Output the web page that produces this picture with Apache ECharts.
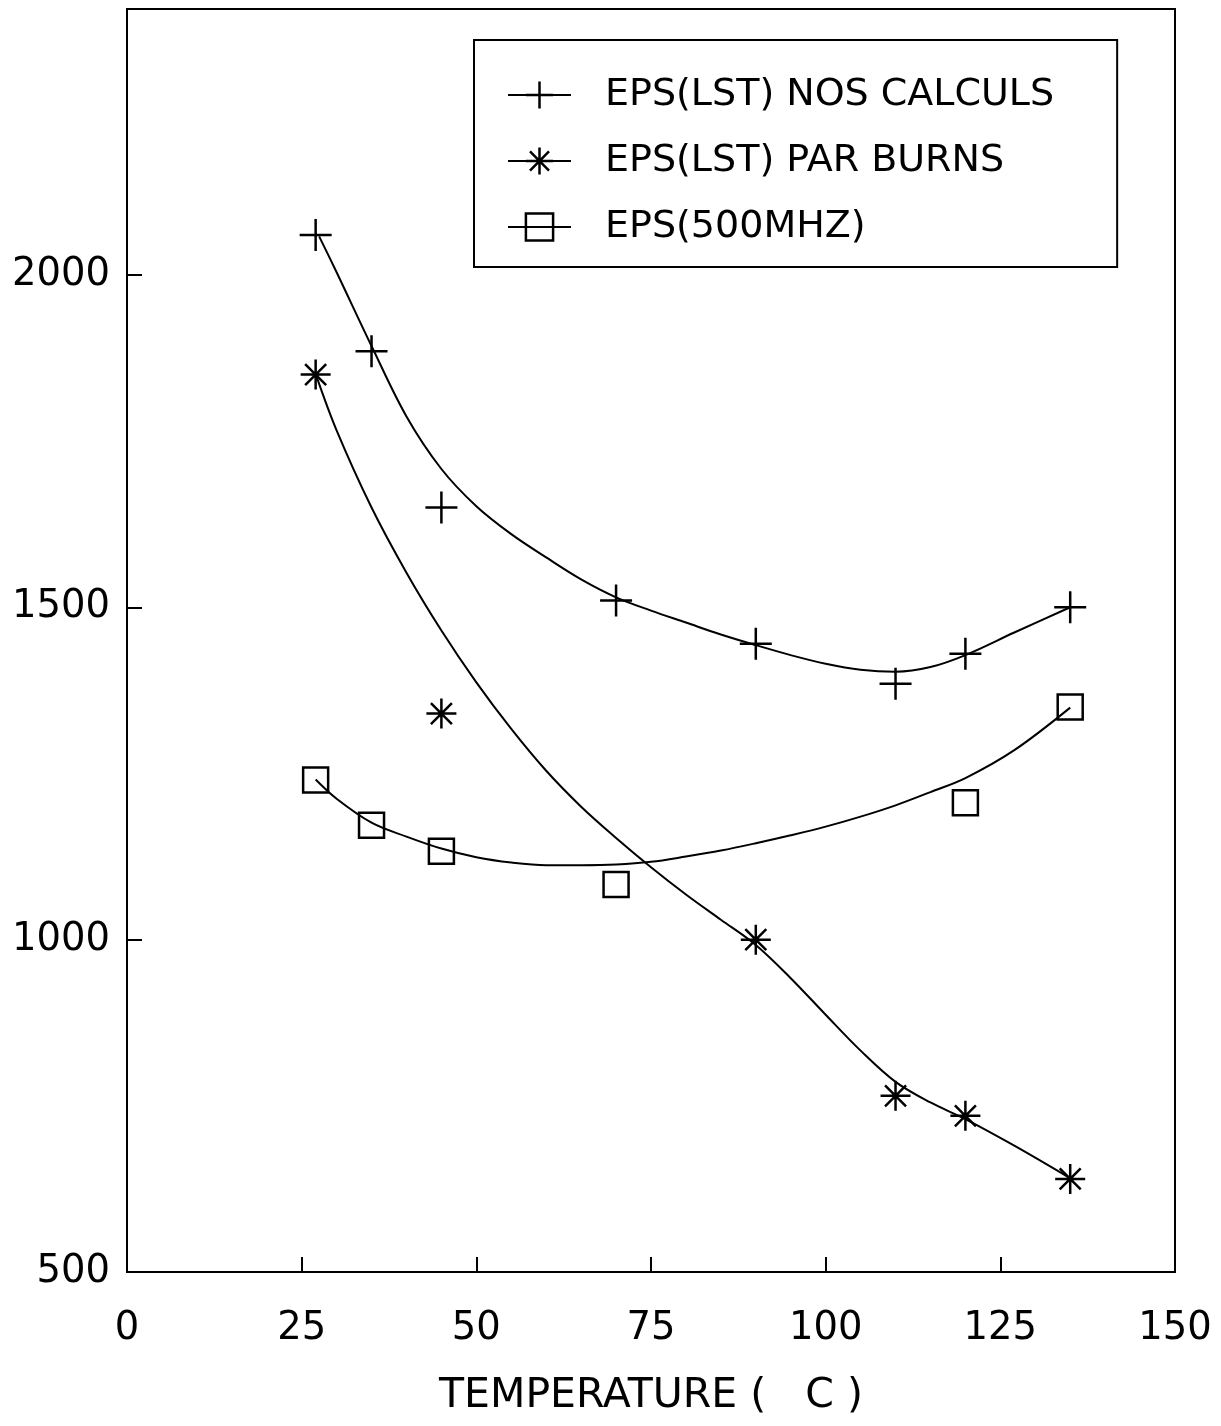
<!DOCTYPE html>
<html><head><meta charset="utf-8">
<script src="https://cdn.jsdelivr.net/npm/echarts@6/dist/echarts.min.js"></script>
<style>html,body{margin:0;padding:0;background:#fff}#c{width:1221px;height:1426px}</style>
</head><body><div id="c"></div>
<script>
// Measured points
const plusX = [27, 35, 45, 70, 90, 110, 120, 135];
const plusY = [2060, 1885, 1650, 1510, 1445, 1385, 1430, 1500];
const starX = [27, 45, 90, 110, 120, 135];
const starY = [1850, 1340, 1000, 765, 735, 640];
const squareX = [27, 35, 45, 70, 120, 135];
const squareY = [1240, 1172, 1133, 1083, 1206, 1350];

// Fitted curves
const plusCurveX = [27.5, 30, 35, 40, 45, 50, 55, 60, 65, 70, 75, 80, 85, 90, 95, 100, 105, 110, 115, 120, 127, 135];
const plusCurveY = [2058, 2004, 1893, 1787, 1708, 1652, 1610, 1575, 1542, 1515, 1495, 1477, 1459, 1443, 1428, 1415, 1406, 1403, 1410, 1428, 1462, 1500];
const starCurveX = [27, 30, 35, 40, 45, 50, 55, 60, 65, 70, 75, 80, 85, 90, 95, 100, 105, 110, 115, 120, 127, 135];
const starCurveY = [1851, 1766, 1650, 1552, 1465, 1387, 1317, 1254, 1200, 1153, 1109, 1068, 1030, 992, 942, 887, 833, 786, 755, 730, 690, 641];
const squareCurveX = [27, 30, 35, 40, 45, 50, 55, 60, 65, 70, 75, 80, 85, 90, 95, 100, 105, 110, 115, 120, 127, 135];
const squareCurveY = [1241, 1212, 1176, 1155, 1137, 1124, 1116, 1112, 1112, 1113, 1117, 1125, 1134, 1145, 1157, 1170, 1185, 1202, 1222, 1243, 1285, 1349];

const seriesNames = ['EPS(LST) NOS CALCULS', 'EPS(LST) PAR BURNS', 'EPS(500MHZ)'];
const xAxisName = 'TEMPERATURE (   C )';

const zip = (xs, ys) => xs.map((x, i) => [x, ys[i]]);
const FONT = 'DejaVu Sans';
const plusPath = 'path://M0,10 L20,10 M10,0 L10,20';
const starPath = 'path://M0,10 L20,10 M10,0 L10,20 M3,3 L17,17 M17,3 L3,17';
const squarePath = 'path://M0,0 L20,0 L20,20 L0,20 Z';

const markerStyle = {color: 'rgba(0,0,0,0)', borderColor: '#000', borderWidth: 2.5};

function markers(name, xs, ys, symbol, size) {
  return {
    name, type: 'line', data: zip(xs, ys), symbol, symbolSize: size,
    showAllSymbol: true, itemStyle: markerStyle,
    lineStyle: {opacity: 0, width: 2, color: '#000'},
    emphasis: {disabled: true}, silent: true, z: 3
  };
}
function curve(xs, ys) {
  return {
    type: 'line', data: zip(xs, ys), smooth: 0.35, showSymbol: false, symbol: 'none',
    lineStyle: {color: '#000', width: 2}, emphasis: {disabled: true}, silent: true, z: 2
  };
}

const chart = echarts.init(document.getElementById('c'), null, {renderer: 'canvas'});
chart.setOption({
  animation: false,
  backgroundColor: '#fff',
  grid: {left: 127, right: 46, top: 9, bottom: 154, show: true, borderColor: '#000', borderWidth: 2, backgroundColor: 'transparent'},
  legend: {
    data: seriesNames,
    orient: 'vertical', left: 474, top: 40,
    padding: [36, 63, 21, 33],
    itemGap: 28, itemWidth: 63, itemHeight: 34,
    borderColor: '#000', borderWidth: 2,
    itemStyle: {color: 'rgba(0,0,0,0)', borderColor: '#000', borderWidth: 2.5},
    lineStyle: {color: '#000', width: 2, opacity: 1},
    textStyle: {fontFamily: FONT, fontSize: 38, color: '#000', padding: [0, 0, 0, 29]},
    selectedMode: false
  },
  xAxis: {
    type: 'value', min: 0, max: 150, interval: 25,
    name: xAxisName, nameLocation: 'middle', nameGap: 104,
    nameTextStyle: {fontFamily: FONT, fontSize: 41, color: '#000'},
    axisLine: {show: true, lineStyle: {color: '#000', width: 2}},
    axisTick: {show: true, inside: true, length: 15, lineStyle: {color: '#000', width: 2}},
    axisLabel: {fontFamily: FONT, fontSize: 38.5, color: '#000', margin: 37},
    splitLine: {show: false}
  },
  yAxis: {
    type: 'value', min: 500, max: 2400, interval: 500,
    axisLine: {show: true, lineStyle: {color: '#000', width: 2}},
    axisTick: {show: true, inside: true, length: 15, lineStyle: {color: '#000', width: 2}},
    axisLabel: {fontFamily: FONT, fontSize: 38.5, color: '#000', margin: 17, showMaxLabel: false,
      formatter: v => String(v)},
    splitLine: {show: false}
  },
  series: [
    markers(seriesNames[0], plusX, plusY, plusPath, 32),
    markers(seriesNames[1], starX, starY, starPath, 30),
    markers(seriesNames[2], squareX, squareY, squarePath, 25),
    curve(plusCurveX, plusCurveY),
    curve(starCurveX, starCurveY),
    curve(squareCurveX, squareCurveY)
  ]
});
</script></body></html>
